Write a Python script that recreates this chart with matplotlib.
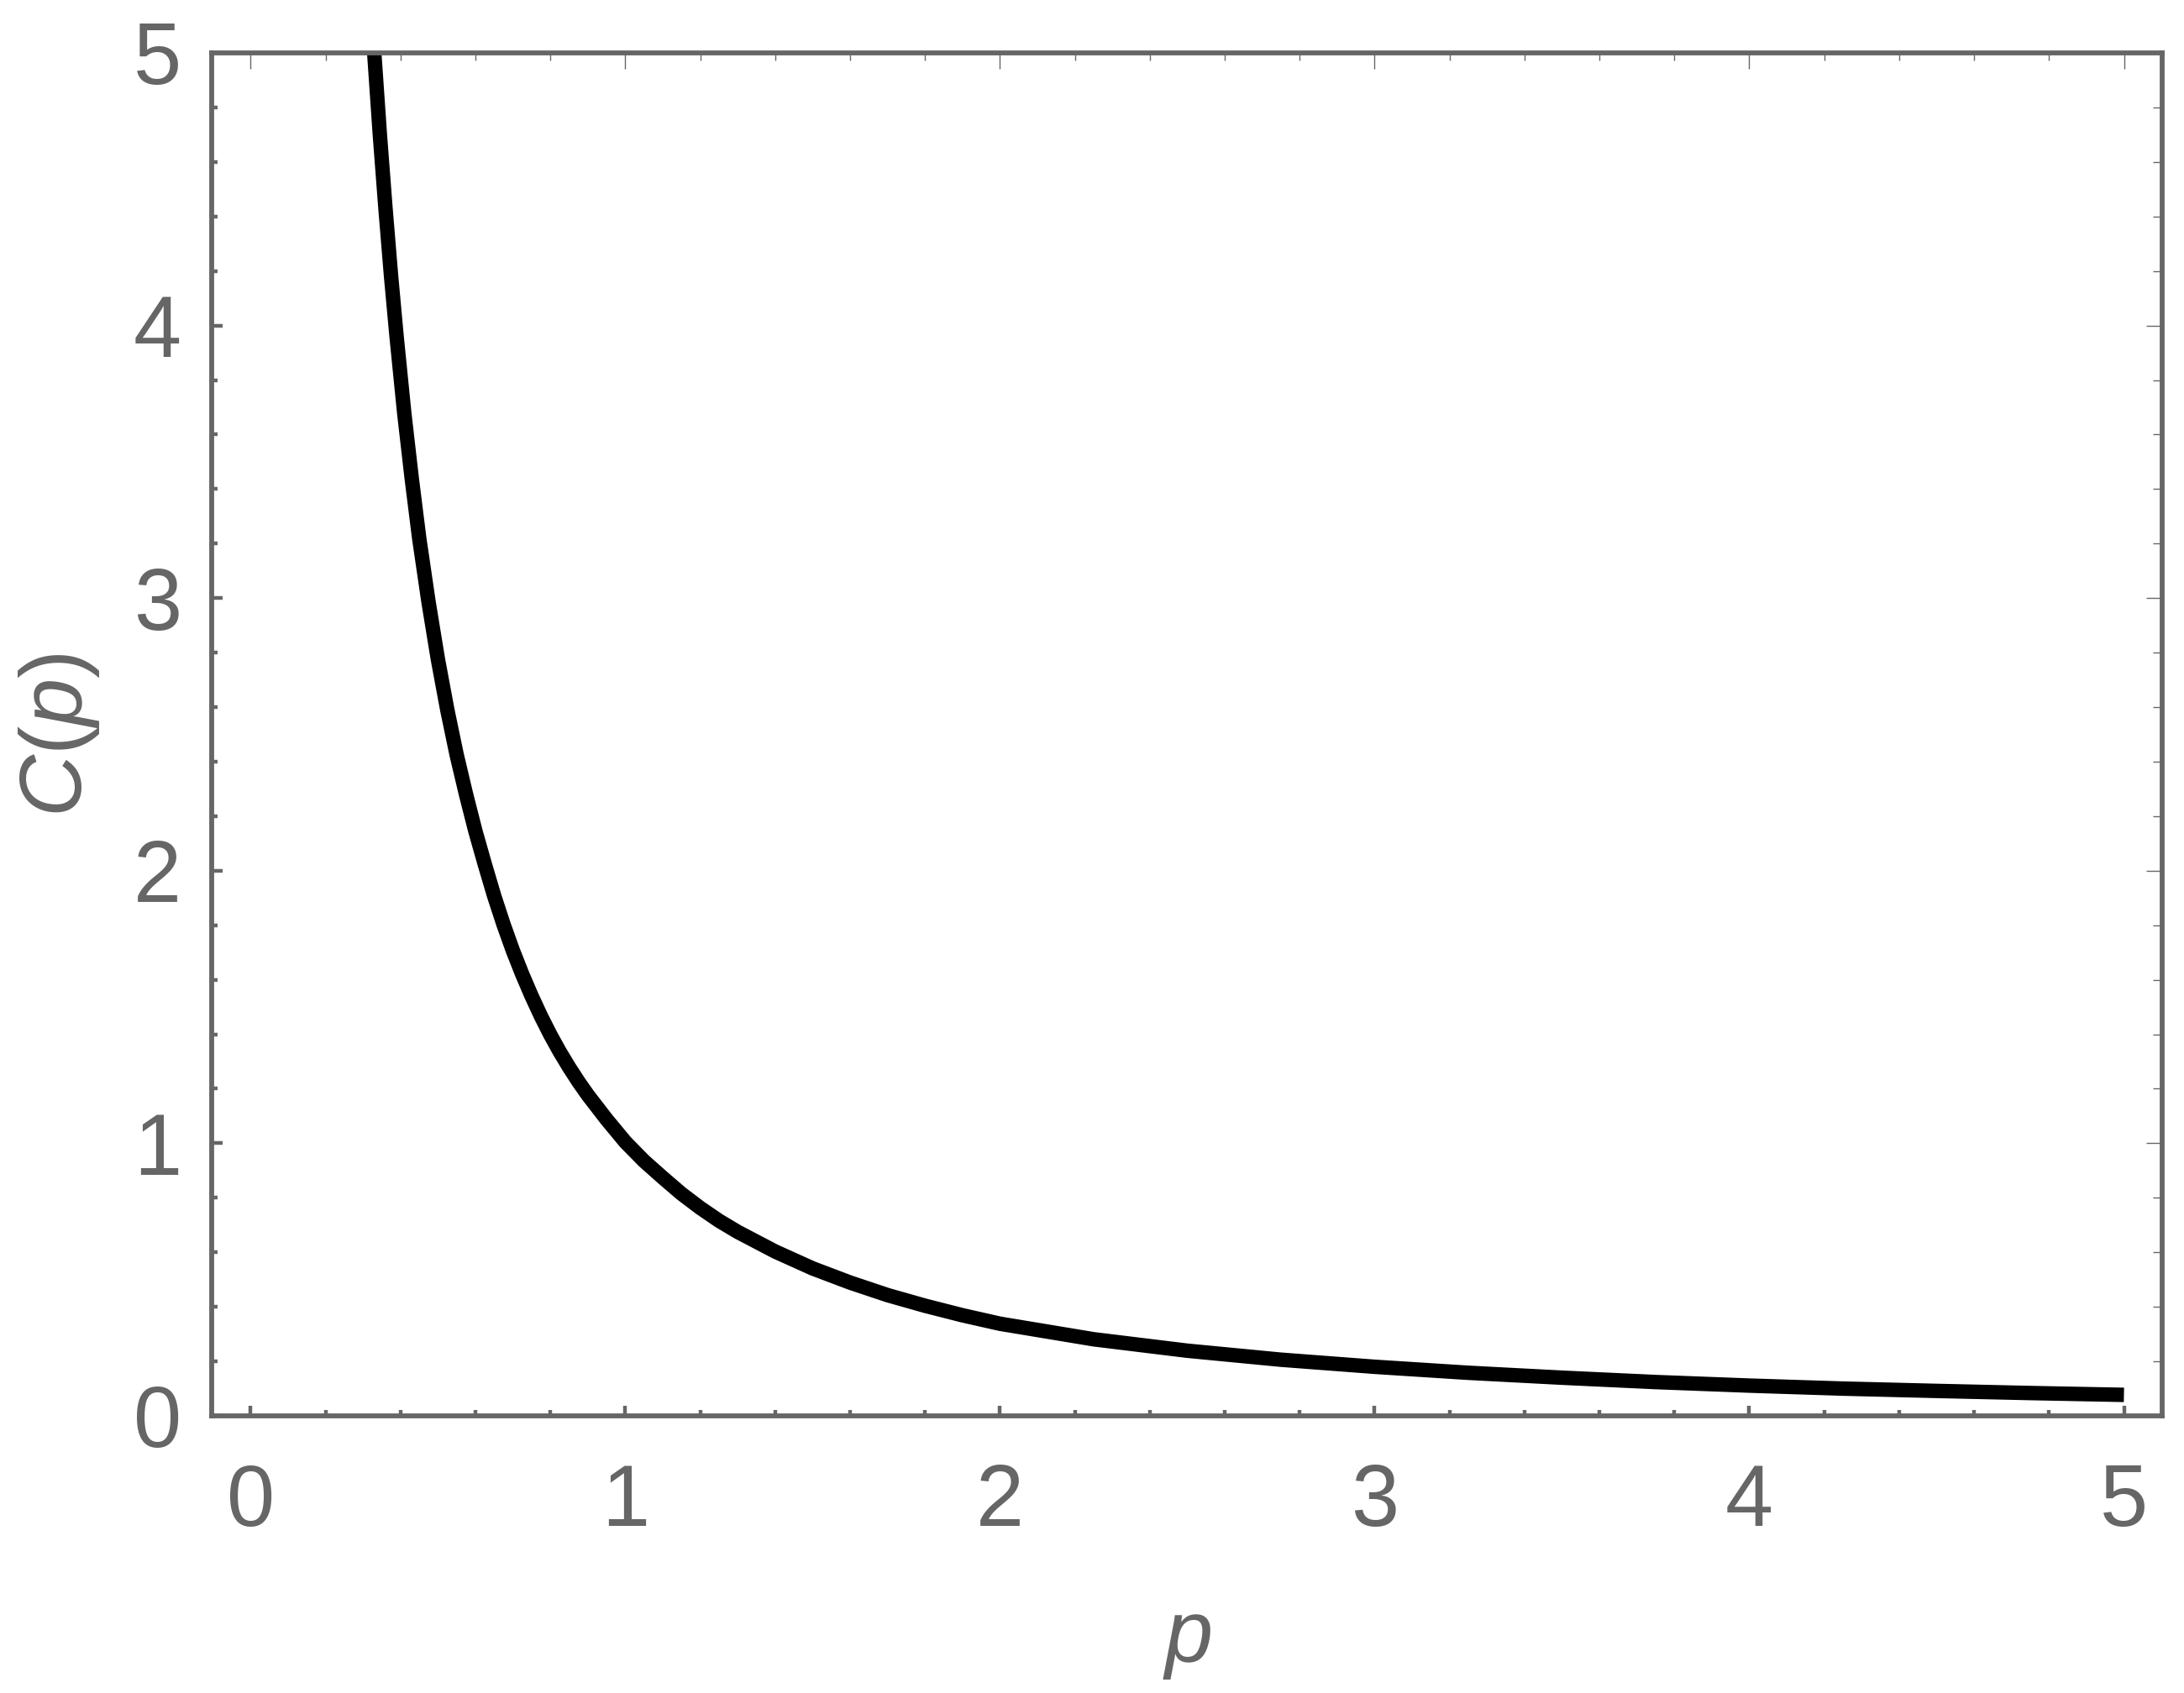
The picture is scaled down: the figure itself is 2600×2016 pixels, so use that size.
import matplotlib.pyplot as plt
from matplotlib.ticker import MultipleLocator

# values
p_vals = [0.33, 0.345, 0.36, 0.375, 0.39, 0.41, 0.43, 0.45, 0.475, 0.50,
          0.525, 0.55, 0.575, 0.60, 0.625, 0.65, 0.675, 0.70, 0.725, 0.75,
          0.775, 0.80, 0.825, 0.85, 0.875, 0.90, 0.95, 1.00, 1.05, 1.10,
          1.15, 1.20, 1.25, 1.30, 1.40, 1.50, 1.60, 1.70, 1.80, 1.90,
          2.00, 2.25, 2.50, 2.75, 3.00, 3.25, 3.50, 3.75, 4.00, 4.25,
          4.50, 4.75, 5.00]
c_vals = [5.00, 4.70, 4.43, 4.18, 3.955, 3.68, 3.44, 3.22, 2.985, 2.775,
          2.59, 2.425, 2.28, 2.145, 2.024, 1.908, 1.803, 1.707, 1.62, 1.54,
          1.466, 1.398, 1.336, 1.279, 1.226, 1.177, 1.088, 1.005, 0.935, 0.874,
          0.815, 0.763, 0.716, 0.675, 0.603, 0.541, 0.489, 0.443, 0.404, 0.369,
          0.338, 0.281, 0.239, 0.206, 0.180, 0.158, 0.140, 0.124, 0.111, 0.100,
          0.0915, 0.0837, 0.077]

x_ticks = [0, 1, 2, 3, 4, 5]
y_ticks = [0, 1, 2, 3, 4, 5]

GRAY = "#666666"

plt.rcParams["font.family"] = ["Liberation Sans", "DejaVu Sans"]
plt.rcParams["mathtext.fontset"] = "custom"
plt.rcParams["mathtext.rm"] = "Liberation Sans"
plt.rcParams["mathtext.it"] = "Liberation Sans:italic"

fig = plt.figure(figsize=(13, 10.08), dpi=200)
ax = fig.add_axes([0.0969, 0.1637, 0.8931, 0.80505])

ax.plot(p_vals, c_vals, color="black", lw=6.2,
        solid_capstyle="butt", solid_joinstyle="round")

ax.set_xlim(-0.104, 5.102)
ax.set_ylim(0, 5)

# ── frame ────────────────────────────────────────────────────────
for s in ax.spines.values():
    s.set_color(GRAY)
    s.set_linewidth(2.1)

ax.set_xticks(x_ticks)
ax.set_yticks(y_ticks)
ax.xaxis.set_minor_locator(MultipleLocator(0.2))
ax.yaxis.set_minor_locator(MultipleLocator(0.2))
ax.tick_params(which="both", direction="in", color=GRAY, width=1.6,
               top=False, right=False, labelcolor=GRAY, labelsize=37)
ax.tick_params(which="major", length=4.5)
ax.tick_params(which="minor", length=2.5)
ax.tick_params(axis="x", pad=20)
ax.tick_params(axis="y", pad=13)

# thin ticks on top / right, no labels
top = ax.secondary_xaxis("top")
top.set_xticks(x_ticks)
top.xaxis.set_minor_locator(MultipleLocator(0.2))
top.tick_params(which="both", direction="in", color=GRAY, width=0.5,
                labeltop=False)
top.tick_params(which="major", length=7)
top.tick_params(which="minor", length=3.3)
top.spines["top"].set_visible(False)

right = ax.secondary_yaxis("right")
right.set_yticks(y_ticks)
right.yaxis.set_minor_locator(MultipleLocator(0.2))
right.tick_params(which="both", direction="in", color=GRAY, width=0.5,
                  labelright=False)
right.tick_params(which="major", length=7)
right.tick_params(which="minor", length=3.8)
right.spines["right"].set_visible(False)

# ── axis labels ──────────────────────────────────────────────────
fig.text(0.5435, 0.0188, r"$p$", color=GRAY, fontsize=37,
         ha="center", va="baseline")
fig.text(0.0372, 0.566, r"$C(p)$", color=GRAY, fontsize=37,
         rotation=90, rotation_mode="anchor", ha="center", va="baseline")

fig.savefig("out.png", dpi=200, facecolor="white")
